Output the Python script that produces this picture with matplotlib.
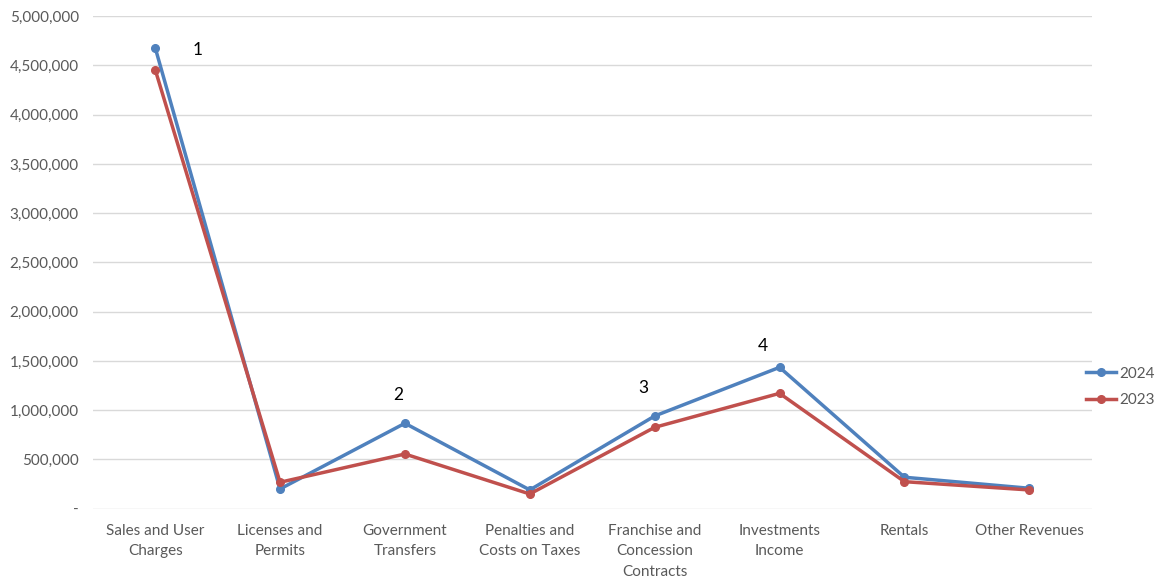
import matplotlib
matplotlib.use("Agg")
import matplotlib.pyplot as plt
from matplotlib.ticker import FuncFormatter

plt.rcParams['font.family'] = ['Lato', 'DejaVu Sans']

categories = ["Sales and User\nCharges", "Licenses and\nPermits", "Government\nTransfers",
              "Penalties and\nCosts on Taxes", "Franchise and\nConcession\nContracts",
              "Investments\nIncome", "Rentals", "Other Revenues"]
values_2024 = [4682000, 200000, 867000, 190000, 941000, 1435000, 319000, 207000]
values_2023 = [4459000, 268000, 555000, 149000, 826000, 1171000, 274000, 190000]
series_labels = ["2024", "2023"]
annotations = ["1", "2", "3", "4"]

fig = plt.figure(figsize=(11.59, 5.8), dpi=100)
ax = fig.add_axes([0.080, 0.123, 0.862, 0.849])

x = list(range(len(categories)))
ax.plot(x, values_2024, color="#4F81BD", lw=2.5, marker="o", ms=5.5, label=series_labels[0], zorder=3)
ax.plot(x, values_2023, color="#C0504D", lw=2.5, marker="o", ms=5.5, label=series_labels[1], zorder=3)

ax.set_xlim(-0.5, 7.5)
ax.set_ylim(0, 5000000)
ax.set_yticks(range(0, 5000001, 500000))
ax.yaxis.set_major_formatter(FuncFormatter(lambda v, p: "-" if v == 0 else f"{int(v):,}"))
ax.set_xticks(x)
ax.set_xticklabels(categories)
ax.grid(axis="y", color="#D9D9D9", lw=1)
ax.set_axisbelow(True)
for s in ax.spines.values():
    s.set_visible(False)
ax.tick_params(length=0, labelsize=11, labelcolor="#595959")
ax.tick_params(axis="y", pad=10)
ax.tick_params(axis="x", pad=11)
for lbl in ax.get_xticklabels():
    lbl.set_linespacing(1.58)

ann_pos = [(0.34, 4655000), (1.946, 1154000), (3.907, 1225000), (4.868, 1651000)]
for t, (px, py) in zip(annotations, ann_pos):
    ax.text(px, py, t, fontsize=12.5, color="black", ha="center", va="center")

leg = fig.legend(loc="center left", bbox_to_anchor=(0.925, 0.333), frameon=False,
                 fontsize=11, handlelength=2.0, handletextpad=0.2, labelspacing=0.8)
for t in leg.get_texts():
    t.set_color("#595959")

fig.savefig("out.png", dpi=100)
